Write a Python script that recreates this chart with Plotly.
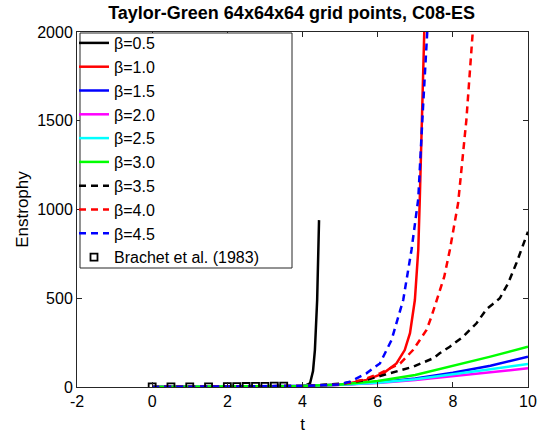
import plotly.graph_objects as go

# Enstrophy histories for each filter parameter beta
t_b05 = [0, 1, 2, 3, 3.5, 4.0, 4.1, 4.2, 4.28, 4.33, 4.39, 4.44]
e_b05 = [0.4, 0.8, 1.6, 3, 4, 6, 10, 20, 90, 208, 490, 940]

t_b10 = [0, 1, 2, 3, 4, 5, 5.7, 6.15, 6.5, 6.72, 6.86, 6.99, 7.08, 7.12, 7.18, 7.24, 7.25]
e_b10 = [0.4, 0.8, 1.6, 3, 5, 12, 40, 77, 133, 208, 303, 490, 772, 1053, 1500, 2011, 2080]

t_lin = [0, 1, 2, 3, 4, 5, 6, 7, 8, 9, 10]
e_b15 = [0.4, 0.8, 1.6, 3, 6, 12, 25, 48, 80, 120, 171]
e_b20 = [0.4, 0.8, 1.6, 3, 6, 12, 22, 40, 62, 85, 105]
e_b25 = [0.4, 0.8, 1.6, 3, 6, 12, 24, 44, 70, 100, 130]
e_b30 = [0.4, 0.8, 1.6, 3, 6, 14, 34, 68, 118, 171, 227]

t_b35 = [0, 1, 2, 3, 4, 5, 5.7, 6.32, 6.94, 7.48, 7.65, 7.92, 8.27, 8.63, 8.9, 9.05, 9.25, 9.47, 9.69, 10]
e_b35 = [0.4, 0.8, 1.6, 3, 6, 18, 40, 77, 114, 162, 190, 227, 283, 359, 440, 465, 500, 584, 697, 875]

t_b40 = [0, 1, 2, 3, 4, 5, 5.6, 6.06, 6.6, 6.94, 7.3, 7.43, 7.61, 7.77, 7.92, 8.14, 8.36, 8.52, 8.54]
e_b40 = [0.4, 0.8, 1.6, 3, 6, 15, 40, 77, 133, 208, 321, 396, 509, 620, 772, 1035, 1504, 1973, 2030]

t_b45 = [0, 1, 2, 3, 4, 5, 5.26, 5.7, 6.06, 6.37, 6.68, 6.9, 7.08, 7.2, 7.32, 7.34]
e_b45 = [0.4, 0.8, 1.6, 3, 6, 15, 30, 77, 133, 265, 490, 772, 1060, 1550, 2011, 2080]

# Reference DNS data
t_ref = [0, 0.5, 1, 1.5, 2, 2.25, 2.5, 2.75, 3, 3.25, 3.5]
e_ref = [0.375, 0.5, 0.8, 1.2, 1.8, 2.2, 2.7, 3.2, 3.8, 4.5, 5.3]

# Axis ticks
x_ticks = [-2, 0, 2, 4, 6, 8, 10]
x_tick_text = ["-2", "0", "2", "4", "6", "8", "10"]
y_ticks = [0, 500, 1000, 1500, 2000]

series = [
    ("β=0.5", t_b05, e_b05, "black", "solid"),
    ("β=1.0", t_b10, e_b10, "#ff0000", "solid"),
    ("β=1.5", t_lin, e_b15, "#0000ff", "solid"),
    ("β=2.0", t_lin, e_b20, "#ff00ff", "solid"),
    ("β=2.5", t_lin, e_b25, "#00ffff", "solid"),
    ("β=3.0", t_lin, e_b30, "#00ff00", "solid"),
    ("β=3.5", t_b35, e_b35, "black", "7px,5px"),
    ("β=4.0", t_b40, e_b40, "#ff0000", "7px,5px"),
    ("β=4.5", t_b45, e_b45, "#0000ff", "7px,5px"),
]

fig = go.Figure()
for name, t, e, color, dash in series:
    fig.add_trace(go.Scatter(
        x=t, y=e, mode="lines", name=name,
        line=dict(color=color, width=2.5, dash=dash),
    ))

fig.add_trace(go.Scatter(
    x=t_ref, y=e_ref, mode="markers", name="Brachet et al. (1983)",
    marker=dict(symbol="square-open", size=7, color="black",
                line=dict(width=1.8, color="black")),
))

axis_common = dict(
    showgrid=False, zeroline=False, showline=True, mirror="ticks",
    linecolor="#262626", linewidth=1, ticks="inside", ticklen=5,
    tickcolor="#262626", tickfont=dict(size=16, color="black"),
    automargin=False,
)

# plot-area geometry (pixels) used to place the legend frame
L, R, T, B = 77, 17, 32, 47
W, H = 545, 434
pw, ph = W - L - R, H - T - B

def px_x(p):
    return (p - L) / pw

def px_y(p):
    return (H - B - p) / ph

fig.update_layout(
    width=W, height=H,
    margin=dict(l=L, r=R, t=T, b=B),
    paper_bgcolor="white", plot_bgcolor="white",
    font=dict(family="Liberation Sans, Arial, sans-serif", color="black"),
    title=dict(text="<b>Taylor-Green 64x64x64 grid points, C08-ES</b>",
               x=0.535, xanchor="center", y=0.970, yanchor="middle",
               font=dict(size=18, color="black")),
    xaxis=dict(range=[-2, 10], tickvals=x_ticks, ticktext=x_tick_text,
               title=dict(text="t", font=dict(size=17), standoff=8),
               **axis_common),
    yaxis=dict(range=[0, 2000], tickvals=y_ticks,
               title=dict(text="Enstrophy", font=dict(size=17), standoff=4),
               **axis_common),
    legend=dict(x=px_x(74), y=px_y(26), xanchor="left", yanchor="top",
                borderwidth=0, bgcolor="rgba(0,0,0,0)", maxheight=400,
                font=dict(size=16), tracegroupgap=0),
    shapes=[dict(type="rect", xref="paper", yref="paper",
                 x0=px_x(80), x1=px_x(292), y0=px_y(268), y1=px_y(33),
                 line=dict(color="#262626", width=1), fillcolor="white",
                 layer="above")],
    showlegend=True,
)

fig.write_html("out.html")
